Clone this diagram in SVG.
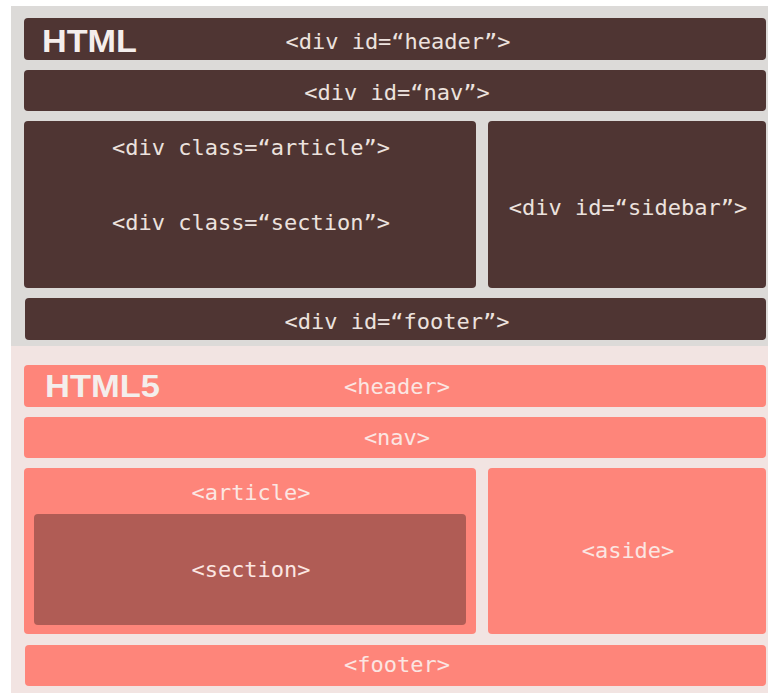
<svg xmlns="http://www.w3.org/2000/svg" width="768" height="693" viewBox="0 0 768 693">
<style>
.dk{fill:#4f3533}
.sl{fill:#fe857a}
.sc{fill:#b05c55}
.t{font-family:"DejaVu Sans Mono","Liberation Mono",monospace;font-size:22px;text-anchor:middle}
.td{fill:#ece2de}
.tl{fill:#fbe6e2}
.big{font-family:"Liberation Sans",Arial,sans-serif;font-weight:bold;font-size:31px;fill:#f4eeec}
</style>
<rect x="0" y="0" width="768" height="693" fill="#ffffff"/>
<rect x="11" y="6" width="757" height="340" fill="#dcdad8"/>
<rect x="11" y="346" width="757" height="347" fill="#f2e4e2"/>
<g id="html-header"><rect class="dk" x="24" y="18" width="742" height="42" rx="4"/>
<text class="big" x="42" y="52" textLength="95" lengthAdjust="spacingAndGlyphs">HTML</text>
<text class="t td" x="398" y="49">&lt;div id=“header”&gt;</text></g>
<g id="html-nav"><rect class="dk" x="24" y="70" width="742" height="41" rx="4"/>
<text class="t td" x="397" y="100">&lt;div id=“nav”&gt;</text></g>
<g id="html-article"><rect class="dk" x="24" y="121" width="452" height="167" rx="4"/>
<text class="t td" x="251" y="155">&lt;div class=“article”&gt;</text>
<text class="t td" x="251" y="230">&lt;div class=“section”&gt;</text></g>
<g id="html-sidebar"><rect class="dk" x="488" y="121" width="278" height="167" rx="4"/>
<text class="t td" x="628" y="215">&lt;div id=“sidebar”&gt;</text></g>
<g id="html-footer"><rect class="dk" x="25" y="298" width="741" height="42" rx="4"/>
<text class="t td" x="397" y="329">&lt;div id=“footer”&gt;</text></g>
<g id="h5-header"><rect class="sl" x="24" y="365" width="742" height="42" rx="4"/>
<text class="big" x="45" y="397" textLength="115" lengthAdjust="spacingAndGlyphs">HTML5</text>
<text class="t tl" x="397" y="394">&lt;header&gt;</text></g>
<g id="h5-nav"><rect class="sl" x="24" y="417" width="742" height="41" rx="4"/>
<text class="t tl" x="397" y="445">&lt;nav&gt;</text></g>
<g id="h5-article"><rect class="sl" x="24" y="468" width="452" height="166" rx="4"/>
<text class="t tl" x="251" y="500">&lt;article&gt;</text></g>
<g id="h5-section"><rect class="sc" x="34" y="514" width="432" height="111" rx="4"/>
<text class="t tl" x="251" y="577">&lt;section&gt;</text></g>
<g id="h5-aside"><rect class="sl" x="488" y="468" width="278" height="166" rx="4"/>
<text class="t tl" x="628" y="558">&lt;aside&gt;</text></g>
<g id="h5-footer"><rect class="sl" x="25" y="645" width="741" height="41" rx="4"/>
<text class="t tl" x="397" y="672">&lt;footer&gt;</text></g>
<g id="connectors"></g>
</svg>
